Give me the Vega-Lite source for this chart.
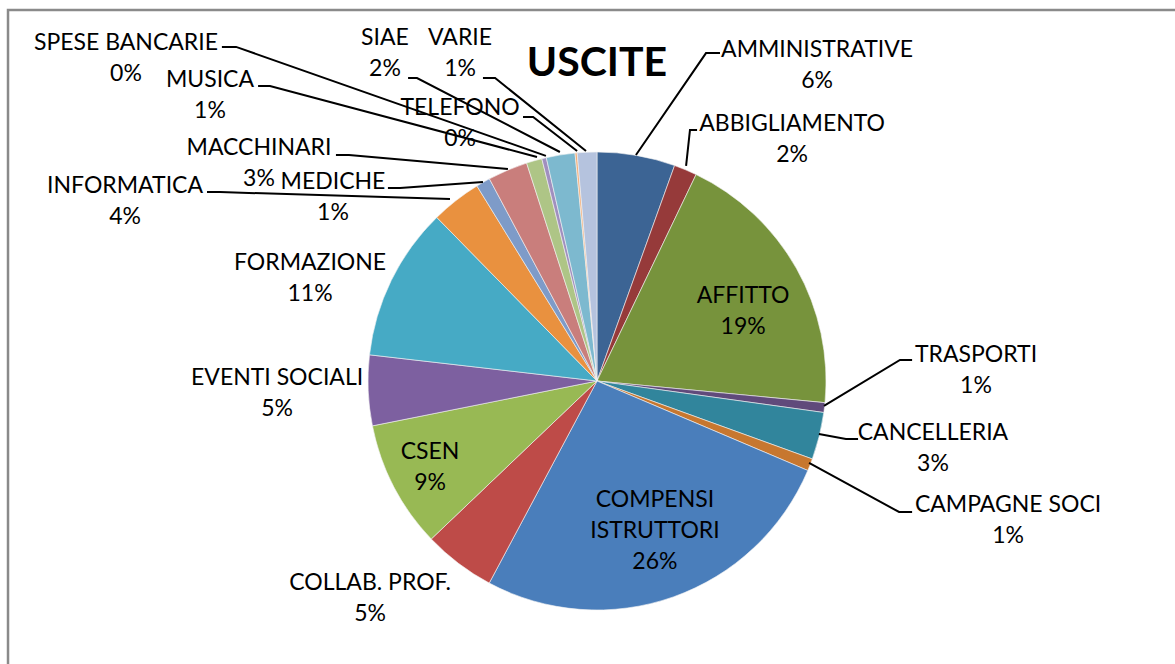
{
  "$schema": "https://vega.github.io/schema/vega-lite/v6.json",
  "width": 458,
  "height": 458,
  "autosize": {"type": "none"},
  "padding": {"left": 368, "top": 152, "right": 349, "bottom": 54},
  "background": "white",
  "config": {"view": {"stroke": null}},
  "datasets": {
    "slices": [
      {"category": "AMMINISTRATIVE", "value": 5.5},
      {"category": "ABBIGLIAMENTO", "value": 1.62},
      {"category": "AFFITTO", "value": 19.38},
      {"category": "TRASPORTI", "value": 0.69},
      {"category": "CANCELLERIA", "value": 3.33},
      {"category": "CAMPAGNE SOCI", "value": 0.86},
      {"category": "COMPENSI ISTRUTTORI", "value": 26.4},
      {"category": "COLLAB. PROF.", "value": 5.08},
      {"category": "CSEN", "value": 8.98},
      {"category": "EVENTI SOCIALI", "value": 4.96},
      {"category": "FORMAZIONE", "value": 10.84},
      {"category": "INFORMATICA", "value": 3.55},
      {"category": "MEDICHE", "value": 1.0},
      {"category": "MACCHINARI", "value": 2.81},
      {"category": "MUSICA", "value": 1.1},
      {"category": "SPESE BANCARIE", "value": 0.32},
      {"category": "SIAE", "value": 2.02},
      {"category": "TELEFONO", "value": 0.15},
      {"category": "VARIE", "value": 1.38}
    ],
    "labelpos": [
      {"category": "AMMINISTRATIVE", "lx": 0.961, "ly": 1.445},
      {"category": "ABBIGLIAMENTO", "lx": 0.852, "ly": 1.122},
      {"category": "AFFITTO", "lx": 0.638, "ly": 0.371},
      {"category": "TRASPORTI", "lx": 1.655, "ly": 0.114},
      {"category": "CANCELLERIA", "lx": 1.467, "ly": -0.227},
      {"category": "CAMPAGNE SOCI", "lx": 1.795, "ly": -0.541},
      {"category": "COMPENSI ISTRUTTORI", "lx": 0.253, "ly": -0.52},
      {"category": "COLLAB. PROF.", "lx": -0.991, "ly": -0.882},
      {"category": "CSEN", "lx": -0.729, "ly": -0.31},
      {"category": "EVENTI SOCIALI", "lx": -1.397, "ly": 0.013},
      {"category": "FORMAZIONE", "lx": -1.253, "ly": 0.515},
      {"category": "INFORMATICA", "lx": -2.061, "ly": 0.852},
      {"category": "MEDICHE", "lx": -1.153, "ly": 0.869},
      {"category": "MACCHINARI", "lx": -1.476, "ly": 1.017},
      {"category": "MUSICA", "lx": -1.69, "ly": 1.314},
      {"category": "SPESE BANCARIE", "lx": -2.057, "ly": 1.476},
      {"category": "SIAE", "lx": -0.926, "ly": 1.498},
      {"category": "TELEFONO", "lx": -0.598, "ly": 1.192},
      {"category": "VARIE", "lx": -0.598, "ly": 1.498}
    ],
    "leaders": [
      {"category": "AMMINISTRATIVE", "pt": 1, "lx": 0.537, "ly": 1.432},
      {"category": "AMMINISTRATIVE", "pt": 2, "lx": 0.476, "ly": 1.432},
      {"category": "AMMINISTRATIVE", "pt": 3, "lx": 0.17, "ly": 0.987},
      {"category": "ABBIGLIAMENTO", "pt": 1, "lx": 0.437, "ly": 1.096},
      {"category": "ABBIGLIAMENTO", "pt": 2, "lx": 0.406, "ly": 1.096},
      {"category": "ABBIGLIAMENTO", "pt": 3, "lx": 0.389, "ly": 0.939},
      {"category": "TRASPORTI", "pt": 1, "lx": 1.376, "ly": 0.092},
      {"category": "TRASPORTI", "pt": 2, "lx": 1.323, "ly": 0.092},
      {"category": "TRASPORTI", "pt": 3, "lx": 0.991, "ly": -0.109},
      {"category": "CANCELLERIA", "pt": 1, "lx": 1.14, "ly": -0.253},
      {"category": "CANCELLERIA", "pt": 2, "lx": 1.087, "ly": -0.253},
      {"category": "CANCELLERIA", "pt": 3, "lx": 0.969, "ly": -0.231},
      {"category": "CAMPAGNE SOCI", "pt": 1, "lx": 1.376, "ly": -0.572},
      {"category": "CAMPAGNE SOCI", "pt": 2, "lx": 1.319, "ly": -0.572},
      {"category": "CAMPAGNE SOCI", "pt": 3, "lx": 0.926, "ly": -0.358},
      {"category": "SPESE BANCARIE", "pt": 1, "lx": -1.638, "ly": 1.459},
      {"category": "SPESE BANCARIE", "pt": 2, "lx": -1.576, "ly": 1.459},
      {"category": "SPESE BANCARIE", "pt": 3, "lx": -0.223, "ly": 0.983},
      {"category": "MUSICA", "pt": 1, "lx": -1.48, "ly": 1.288},
      {"category": "MUSICA", "pt": 2, "lx": -1.428, "ly": 1.288},
      {"category": "MUSICA", "pt": 3, "lx": -0.262, "ly": 0.978},
      {"category": "MACCHINARI", "pt": 1, "lx": -1.14, "ly": 0.987},
      {"category": "MACCHINARI", "pt": 2, "lx": -1.083, "ly": 0.987},
      {"category": "MACCHINARI", "pt": 3, "lx": -0.389, "ly": 0.926},
      {"category": "MEDICHE", "pt": 1, "lx": -0.913, "ly": 0.843},
      {"category": "MEDICHE", "pt": 2, "lx": -0.86, "ly": 0.843},
      {"category": "MEDICHE", "pt": 3, "lx": -0.498, "ly": 0.869},
      {"category": "INFORMATICA", "pt": 1, "lx": -1.703, "ly": 0.825},
      {"category": "INFORMATICA", "pt": 2, "lx": -1.646, "ly": 0.825},
      {"category": "INFORMATICA", "pt": 3, "lx": -0.642, "ly": 0.795},
      {"category": "SIAE", "pt": 1, "lx": -0.825, "ly": 1.323},
      {"category": "SIAE", "pt": 2, "lx": -0.786, "ly": 1.323},
      {"category": "SIAE", "pt": 3, "lx": -0.162, "ly": 1.0},
      {"category": "VARIE", "pt": 1, "lx": -0.498, "ly": 1.323},
      {"category": "VARIE", "pt": 2, "lx": -0.445, "ly": 1.323},
      {"category": "VARIE", "pt": 3, "lx": -0.048, "ly": 1.004},
      {"category": "TELEFONO", "pt": 1, "lx": -0.323, "ly": 1.153},
      {"category": "TELEFONO", "pt": 2, "lx": -0.279, "ly": 1.153},
      {"category": "TELEFONO", "pt": 3, "lx": -0.087, "ly": 1.004}
    ]
  },
  "layer": [
    {
      "data": {"values": [{}]},
      "mark": {"type": "rect", "fill": null, "stroke": "#8a8a8a", "strokeWidth": 2.5},
      "encoding": {
        "x": {"datum": -2.572, "type": "quantitative", "scale": {"domain": [-1, 1], "nice": false, "zero": false}, "axis": null},
        "x2": {"datum": 2.56},
        "y": {"datum": 1.62, "type": "quantitative", "scale": {"domain": [-1, 1], "nice": false, "zero": false}, "axis": null},
        "y2": {"datum": -1.27}
      }
    },
    {
      "data": {"name": "slices"},
      "transform": [{"window": [{"op": "row_number", "as": "idx"}]}],
      "mark": {"type": "arc", "stroke": "#f4f4f4", "strokeWidth": 0.6},
      "encoding": {
        "theta": {"field": "value", "type": "quantitative", "stack": true},
        "order": {"field": "idx", "type": "quantitative"},
        "color": {
          "field": "category",
          "type": "nominal",
          "legend": null,
          "scale": {
            "domain": ["AMMINISTRATIVE", "ABBIGLIAMENTO", "AFFITTO", "TRASPORTI", "CANCELLERIA", "CAMPAGNE SOCI", "COMPENSI ISTRUTTORI", "COLLAB. PROF.", "CSEN", "EVENTI SOCIALI", "FORMAZIONE", "INFORMATICA", "MEDICHE", "MACCHINARI", "MUSICA", "SPESE BANCARIE", "SIAE", "TELEFONO", "VARIE"],
            "range": ["#3c6494", "#963a3a", "#77933c", "#604a7b", "#31859c", "#c7772f", "#4a7ebb", "#be4b48", "#98b954", "#7d60a0", "#46aac5", "#e9913f", "#7e9bc8", "#c97e7c", "#aec586", "#a08fbf", "#7db9cf", "#f5b07a", "#b5c3de"]
          }
        }
      }
    },
    {
      "data": {"name": "leaders"},
      "mark": {"type": "line", "color": "#000000", "strokeWidth": 2},
      "encoding": {
        "x": {"field": "lx", "type": "quantitative", "scale": {"domain": [-1, 1], "nice": false, "zero": false}, "axis": null},
        "y": {"field": "ly", "type": "quantitative", "scale": {"domain": [-1, 1], "nice": false, "zero": false}, "axis": null},
        "detail": {"field": "category"},
        "order": {"field": "pt", "type": "quantitative"}
      }
    },
    {
      "data": {"name": "slices"},
      "transform": [
        {"joinaggregate": [{"op": "sum", "field": "value", "as": "total"}]},
        {"lookup": "category", "from": {"data": {"name": "labelpos"}, "key": "category", "fields": ["lx", "ly"]}},
        {"calculate": "format(datum.value / datum.total, '.0%')", "as": "pct"},
        {"calculate": "datum.category == 'COMPENSI ISTRUTTORI' ? ['COMPENSI', 'ISTRUTTORI', datum.pct] : [datum.category, datum.pct]", "as": "label"}
      ],
      "mark": {"type": "text", "font": "Lato", "fontSize": 23, "lineHeight": 31, "align": "center", "baseline": "middle", "color": "#000000"},
      "encoding": {
        "x": {"field": "lx", "type": "quantitative", "scale": {"domain": [-1, 1], "nice": false, "zero": false}, "axis": null},
        "y": {"field": "ly", "type": "quantitative", "scale": {"domain": [-1, 1], "nice": false, "zero": false}, "axis": null},
        "text": {"field": "label", "type": "nominal"}
      }
    },
    {
      "data": {"values": [{"title": "USCITE"}]},
      "mark": {"type": "text", "font": "Lato", "fontSize": 41, "fontWeight": "bold", "align": "center", "baseline": "alphabetic", "color": "#000000"},
      "encoding": {
        "x": {"datum": 0, "type": "quantitative", "scale": {"domain": [-1, 1], "nice": false, "zero": false}, "axis": null},
        "y": {"datum": 1.332, "type": "quantitative", "scale": {"domain": [-1, 1], "nice": false, "zero": false}, "axis": null},
        "text": {"field": "title", "type": "nominal"}
      }
    }
  ]
}
